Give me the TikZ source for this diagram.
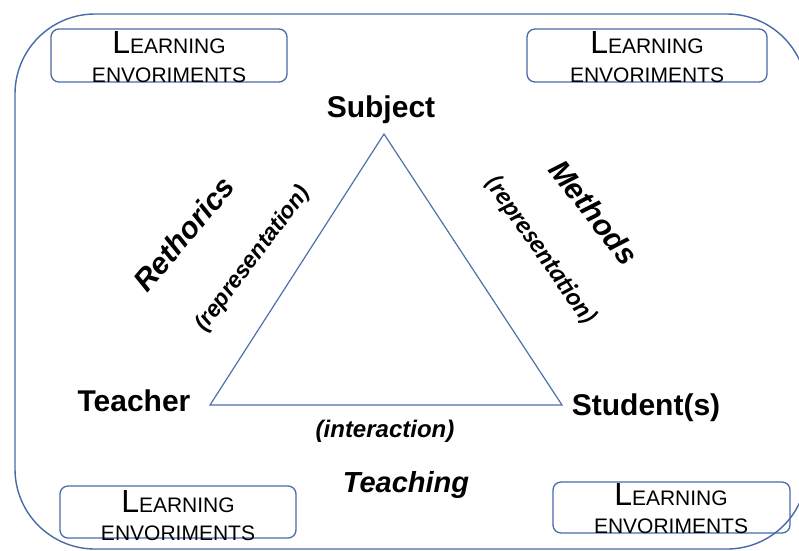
\documentclass[tikz,border=0pt]{standalone}
\usepackage{fontspec}
\setmainfont{Liberation Sans}
\newfontfamily\calib{Carlito}
\definecolor{frameblue}{RGB}{72,106,168}
\definecolor{triblue}{RGB}{80,112,172}
\begin{document}
\begin{tikzpicture}[x=1pt,y=-1pt,
  envbox/.style={draw=frameblue, line width=1.3pt, rounded corners=8pt},
  lbig/.style={anchor=base, inner sep=0pt, font=\fontsize{21}{21}\selectfont},
  vertex/.style={anchor=base, inner sep=0pt, font=\fontsize{30}{30}\selectfont\bfseries},
  sidelbl/.style={inner sep=0pt, font=\fontsize{30}{30}\selectfont\bfseries\itshape},
  reprlbl/.style={inner sep=0pt, font=\fontsize{23}{23}\selectfont\bfseries\itshape}
]
\useasboundingbox (0,0) rectangle (799,550);
\fill[white] (0,0) rectangle (799,550);
% outer frame
\draw[frameblue, line width=1.4pt, rounded corners=80pt] (15,14) rectangle (807,549);

% learning environment boxes
\draw[envbox] (51,29) rectangle (287,82);
\node[lbig] (t1a) at (169,53) {{\fontsize{32}{32}\selectfont L}EARNING};
\node[lbig] (t1b) at (169,82) {ENVORIMENTS};

\draw[envbox] (527,29) rectangle (767,82);
\node[lbig] (t2a) at (647,53) {{\fontsize{32}{32}\selectfont L}EARNING};
\node[lbig] (t2b) at (647,82) {ENVORIMENTS};

\draw[envbox] (60,486) rectangle (296,538);
\node[lbig] (t3a) at (178,512) {{\fontsize{32}{32}\selectfont L}EARNING};
\node[lbig] (t3b) at (178,540) {ENVORIMENTS};

\draw[envbox] (553,482) rectangle (790,533);
\node[lbig] (t4a) at (671,505) {{\fontsize{32}{32}\selectfont L}EARNING};
\node[lbig] (t4b) at (671,533) {ENVORIMENTS};

% triangle
\coordinate (apex) at (384,134);
\coordinate (left) at (210,405);
\coordinate (right) at (562,405);
\draw[triblue, line width=1.2pt] (apex) -- (left) -- (right) -- cycle;

% vertex labels
\node[vertex] (subject) at (381,117) {Subject};
\node[vertex] (teacher) at (134,411) {Teacher};
\node[vertex] (student) at (646,415) {Student(s)};

% side labels
\node[sidelbl, rotate=50] (rethorics) at (184,234) {Rethorics};
\node[reprlbl, rotate=53] (reprL) at (253,259) {(representation)};
\node[sidelbl, rotate=-52] (methods) at (594,212) {Methods};
\node[inner sep=0pt, rotate=-55, font=\fontsize{26}{26}\selectfont\calib\bfseries\itshape] (reprR) at (541,250) {(representation)};
\node[anchor=base, inner sep=0pt, font=\fontsize{24}{24}\selectfont\bfseries\itshape] (interaction) at (385,437) {(interaction)};
\node[anchor=base, inner sep=0pt, font=\fontsize{29}{29}\selectfont\bfseries\itshape] (teaching) at (406,492) {Teaching};
\end{tikzpicture}
\end{document}
